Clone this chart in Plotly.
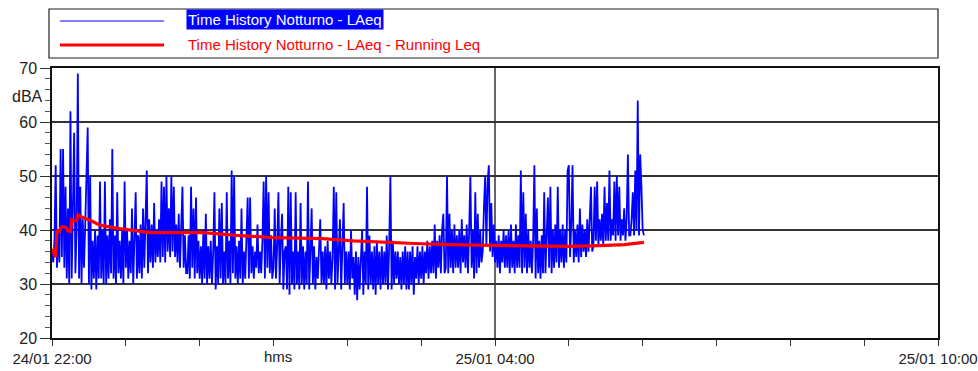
import pandas as pd
import plotly.graph_objects as go

# ---------------- data ----------------
start_time = "2024-01-24 22:00"
axis_end = "2024-01-25 10:00"

# LAeq time history, one value per minute from 22:00
laeq = [
    36, 34, 38, 52, 33, 40, 34, 55, 35, 55,
    33, 48, 31, 44, 30, 62, 31, 45, 58, 32,
    40, 69, 31, 48, 30, 42, 33, 41, 53, 59,
    30, 50, 29, 38, 31, 40, 29, 39, 31, 49,
    31, 40, 30, 49, 30, 39, 31, 42, 32, 55,
    31, 39, 30, 47, 32, 38, 31, 40, 30, 49,
    33, 40, 31, 38, 32, 44, 30, 39, 47, 31,
    39, 32, 41, 31, 44, 33, 40, 51, 32, 42,
    34, 41, 33, 45, 34, 40, 35, 42, 34, 49,
    35, 48, 34, 50, 36, 44, 35, 50, 36, 48,
    35, 41, 34, 43, 33, 40, 48, 33, 39, 32,
    32, 39, 31, 48, 33, 44, 31, 46, 32, 38,
    31, 37, 30, 40, 31, 43, 30, 37, 31, 38,
    30, 36, 47, 29, 37, 30, 44, 31, 45, 30,
    36, 30, 47, 31, 38, 30, 51, 32, 50, 31,
    37, 30, 38, 31, 44, 30, 36, 31, 37, 46,
    31, 46, 32, 37, 31, 36, 33, 41, 32, 36,
    32, 38, 49, 31, 50, 33, 47, 32, 39, 31,
    33, 44, 31, 37, 47, 30, 38, 43, 29, 36,
    37, 29, 48, 28, 47, 30, 36, 29, 47, 30,
    36, 29, 45, 30, 37, 29, 36, 30, 49, 29,
    36, 44, 30, 37, 29, 35, 31, 36, 42, 30,
    36, 30, 37, 29, 38, 31, 36, 30, 35, 48,
    29, 47, 30, 36, 42, 29, 37, 45, 30, 36,
    30, 36, 29, 40, 31, 35, 28, 36, 27, 35,
    29, 36, 40, 28, 36, 30, 48, 29, 39, 30,
    36, 29, 37, 28, 38, 30, 36, 29, 37, 30,
    36, 30, 39, 29, 37, 50, 29, 38, 30, 36,
    31, 36, 30, 35, 29, 36, 30, 37, 29, 36,
    29, 36, 30, 37, 28, 35, 31, 37, 30, 36,
    31, 37, 30, 36, 32, 38, 31, 37, 32, 38,
    32, 41, 31, 38, 33, 39, 32, 40, 43, 32,
    33, 50, 32, 43, 33, 40, 32, 41, 33, 39,
    33, 40, 32, 42, 34, 39, 33, 41, 32, 40,
    50, 33, 40, 31, 47, 32, 43, 33, 40, 34,
    36, 44, 50, 37, 49, 52, 36, 45, 35, 41,
    34, 38, 33, 39, 32, 38, 34, 40, 33, 39,
    33, 40, 32, 41, 33, 38, 32, 41, 33, 39,
    33, 51, 32, 47, 33, 43, 32, 40, 33, 38,
    32, 38, 52, 31, 44, 32, 38, 31, 39, 32,
    47, 32, 40, 46, 33, 48, 32, 40, 33, 41,
    34, 48, 33, 40, 34, 41, 33, 40, 34, 51,
    52, 35, 41, 52, 34, 40, 35, 41, 34, 44,
    35, 41, 36, 40, 35, 42, 36, 41, 48, 36,
    37, 48, 38, 49, 37, 42, 38, 43, 37, 48,
    38, 45, 38, 51, 38, 42, 39, 49, 38, 50,
    39, 48, 38, 42, 39, 44, 38, 42, 54, 39,
    39, 42, 47, 39, 51, 40, 64, 39, 54, 48,
    40, 39,
]

# Running Leq (minutes after 22:00, dBA)
running_min = [0, 1, 2, 3, 4, 5, 6, 7, 8, 10, 12, 13, 15, 16, 18, 20, 21, 25, 31, 39,
               53, 66, 80, 100, 123, 150, 180, 200, 220, 245, 270, 295, 320, 360,
               395, 420, 445, 465, 481]
running_leq = [36.5, 36.2, 35.3, 35.1, 40.0, 39.6, 39.7, 40.4, 40.6, 40.6, 40.3, 39.8,
               39.7, 41.9, 41.7, 41.8, 42.8, 42.3, 41.8, 40.9, 40.3, 39.9, 39.5, 39.5,
               39.5, 39.0, 38.6, 38.5, 38.4, 38.0, 37.7, 37.5, 37.3, 37.2, 37.0, 36.95,
               37.1, 37.3, 37.7]

series_names = ["Time History Notturno - LAeq", "Time History Notturno - LAeq - Running Leq"]
y_ticks = [20, 30, 40, 50, 60, 70]
hour_tick_labels = ["24/01 22:00", "", "", "", "", "", "25/01 04:00",
                    "", "", "", "", "", "25/01 10:00"]

# ---------------- figure ----------------
t0 = pd.Timestamp(start_time)
x_blue = pd.date_range(t0, periods=len(laeq), freq="min")
x_red = [t0 + pd.Timedelta(minutes=m) for m in running_min]
hour_ticks = pd.date_range(t0, pd.Timestamp(axis_end), freq="h")

FONT = "Liberation Sans, Arial, sans-serif"

fig = go.Figure()
fig.add_trace(go.Scatter(x=x_blue, y=laeq, mode="lines", name=series_names[0],
                         line=dict(color="#0000FF", width=1.8)))
fig.add_trace(go.Scatter(x=x_red, y=running_leq, mode="lines", name=series_names[1],
                         line=dict(color="#FF0000", width=3.2)))

W, H = 978, 371
L, R, T, B = 52, 40, 68, 33
pw, ph = W - L - R, H - T - B


def px_x(p):
    return (p - L) / pw


def px_y(p):
    return (H - B - p) / ph


shapes = [
    # vertical grid line at 04:00
    dict(type="line", xref="x", yref="paper", x0=hour_ticks[6], x1=hour_ticks[6],
         y0=0, y1=1, line=dict(color="#333333", width=1.5), layer="below"),
    # legend box
    dict(type="rect", xref="paper", yref="paper", x0=px_x(49), x1=px_x(938),
         y0=px_y(58), y1=px_y(9), line=dict(color="#222222", width=1.2)),
    dict(type="line", xref="paper", yref="paper", x0=px_x(60), x1=px_x(164),
         y0=px_y(21), y1=px_y(21), line=dict(color="#5555FF", width=1.5)),
    dict(type="line", xref="paper", yref="paper", x0=px_x(60), x1=px_x(164),
         y0=px_y(45), y1=px_y(45), line=dict(color="#FF0000", width=3)),
]

annotations = [
    dict(xref="paper", yref="paper", x=px_x(186), y=px_y(20), xanchor="left", yanchor="middle",
         text=series_names[0], showarrow=False, bgcolor="#0000FF", borderpad=1,
         font=dict(family=FONT, size=15, color="white")),
    dict(xref="paper", yref="paper", x=px_x(186), y=px_y(44), xanchor="left", yanchor="middle",
         text=series_names[1], showarrow=False,
         font=dict(family=FONT, size=15, color="#FF0000")),
    dict(xref="paper", yref="paper", x=px_x(27), y=px_y(96), xanchor="center", yanchor="middle",
         text="dBA", showarrow=False, font=dict(family=FONT, size=16, color="#222222")),
    dict(xref="paper", yref="paper", x=px_x(278), y=px_y(356), xanchor="center", yanchor="middle",
         text="hms", showarrow=False, font=dict(family=FONT, size=15, color="#222222")),
]

fig.update_layout(
    width=W, height=H,
    margin=dict(l=L, r=R, t=T, b=B),
    paper_bgcolor="white", plot_bgcolor="white",
    showlegend=False,
    font=dict(family=FONT, size=16, color="#222222"),
    shapes=shapes, annotations=annotations,
    xaxis=dict(
        range=[t0, pd.Timestamp(axis_end)], automargin=False, ticklabeloverflow="allow",
        tickmode="array", tickvals=list(hour_ticks), ticktext=hour_tick_labels,
        ticks="outside", ticklen=6, tickcolor="#333333", tickwidth=1,
        showgrid=False, zeroline=False,
        showline=True, linecolor="#111111", linewidth=2, mirror=True,
        tickfont=dict(family=FONT, size=15, color="#222222"),
    ),
    yaxis=dict(
        range=[20, 70], automargin=False, ticklabeloverflow="allow",
        tickmode="array", tickvals=y_ticks,
        ticks="outside", ticklen=10, tickcolor="#333333", tickwidth=1,
        minor=dict(dtick=2, ticks="outside", ticklen=5, tickcolor="#555555", showgrid=False),
        showgrid=True, gridcolor="#333333", gridwidth=1.5, zeroline=False,
        showline=True, linecolor="#111111", linewidth=1.5, mirror=True,
        tickfont=dict(family=FONT, size=16, color="#222222"),
    ),
)

fig.write_html("out.html", config={"displayModeBar": False},
               post_script="document.body.style.margin='0';")
